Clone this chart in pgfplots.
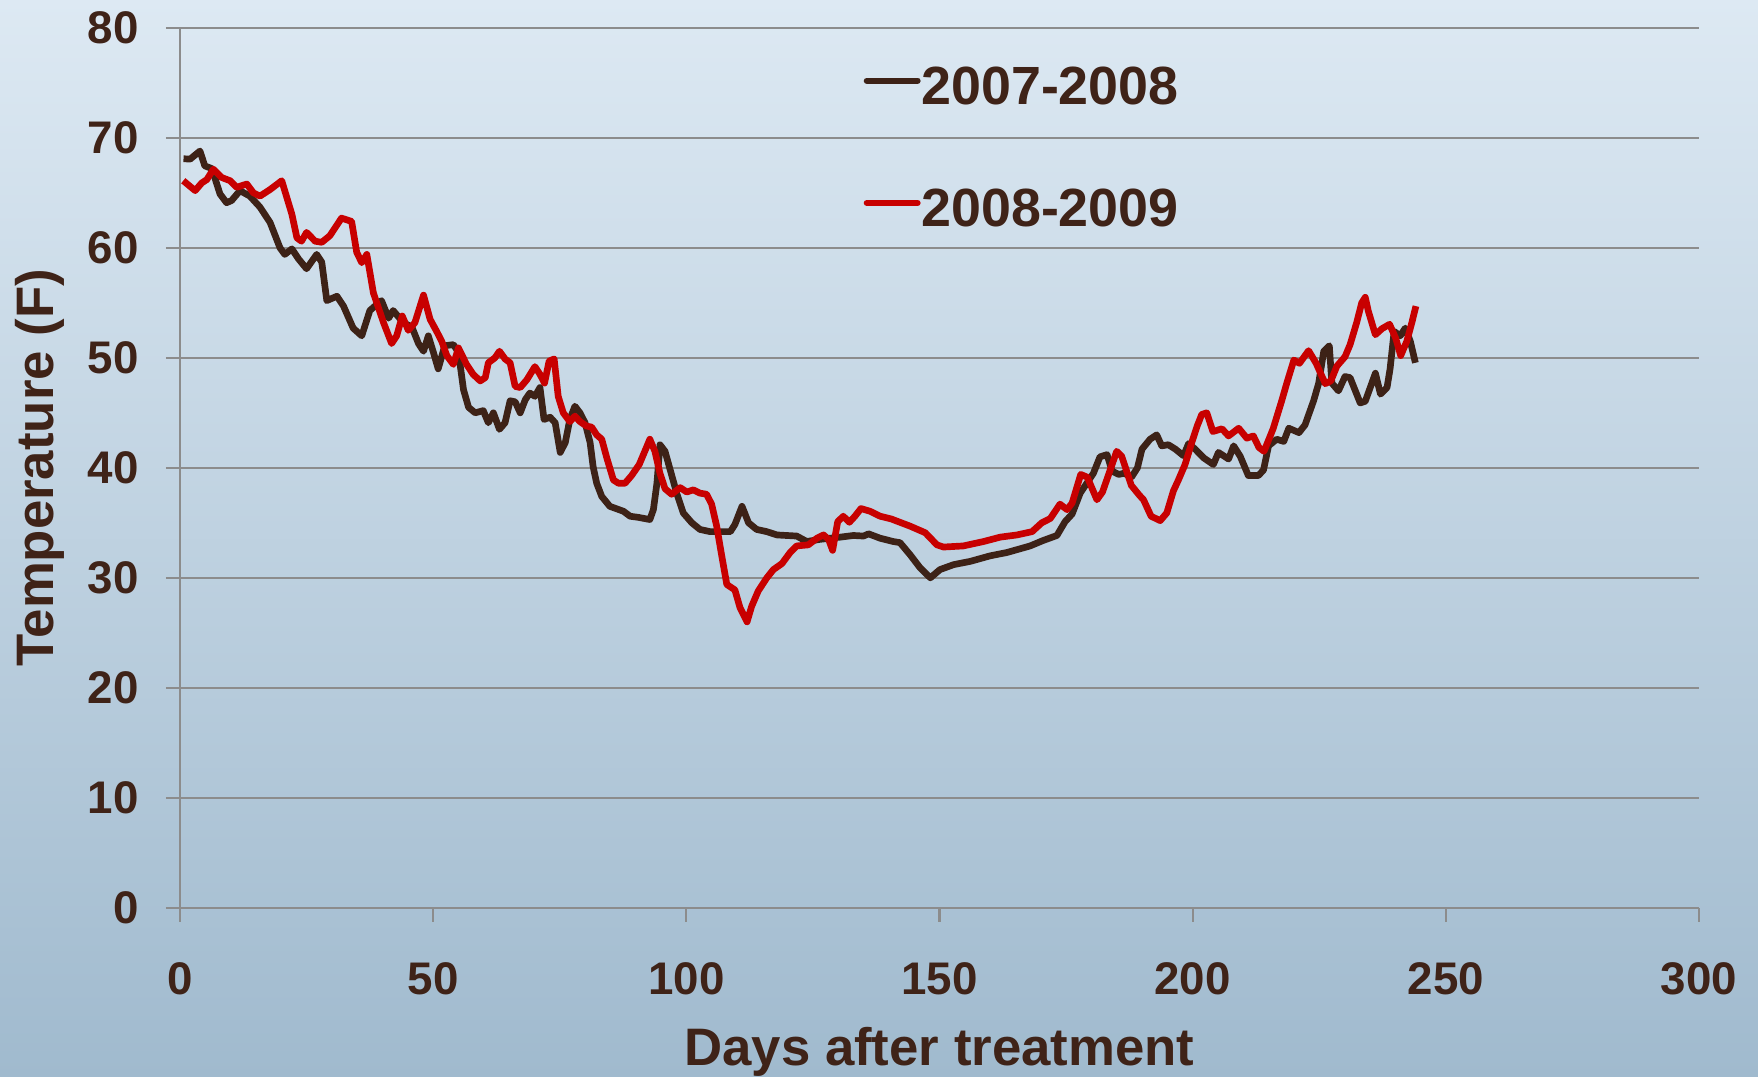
\documentclass[border=0pt]{standalone}
\usepackage{fontspec}
\setmainfont{Liberation Sans}
\usepackage{pgfplots}
\usepackage{pgfplotstable}
\pgfplotsset{compat=1.18}
\definecolor{txt}{RGB}{63,35,24}
\definecolor{blk}{RGB}{61,34,23}
\definecolor{rd}{RGB}{200,0,0}
\definecolor{grd}{RGB}{140,140,140}
\definecolor{bgtop}{RGB}{221,233,243}
\definecolor{bgbot}{RGB}{160,186,206}
\pgfplotstableread{
x y
0.7 68.1
2 68.06
3.95 68.8
4.9 67.45
6.3 67.2
7.9 64.9
9.2 64.1
10.2 64.3
11.85 65.2
13.8 64.7
15.8 63.7
17.8 62.3
19.75 60.0
20.7 59.4
22.1 59.9
23.4 59.0
25.0 58.1
27.0 59.4
28.0 58.7
29.0 55.2
31.0 55.6
32.3 54.7
34.2 52.7
35.9 52.0
37.5 54.3
38.5 54.7
39.8 55.2
41.2 53.6
42.1 54.3
44.1 53.2
45.8 52.8
47.1 51.3
48.1 50.6
49.05 52.0
50.05 50.5
51.0 49.0
52.3 51.1
54.0 51.2
55.0 50.5
56.0 47.1
57.0 45.5
58.3 45.0
59.9 45.2
60.9 44.1
61.9 45.0
63.1 43.5
64.2 44.1
65.2 46.1
66.2 46.0
67.2 45.0
68.2 46.2
69.1 46.8
70.1 46.5
71.1 47.3
71.9 44.4
73.1 44.6
74.1 44.1
75.1 41.4
76.1 42.3
77.0 44.4
78.0 45.6
79.0 45.0
80.0 44.1
81.0 42.3
81.6 40.1
82.3 38.6
83.3 37.4
84.9 36.5
87.6 36.05
88.9 35.6
90.5 35.5
92.8 35.3
93.5 36.2
94.2 38.6
94.8 42.1
95.8 41.5
96.8 39.85
98.1 37.7
99.4 35.9
101.1 35.0
102.7 34.4
104.7 34.2
108.7 34.2
109.6 34.85
111.0 36.5
112.3 35.0
113.9 34.4
115.9 34.2
117.9 33.9
121.8 33.8
123.8 33.3
126.4 33.5
130.4 33.7
133.0 33.85
135.0 33.8
136.0 34.0
138.3 33.6
140.9 33.3
142.2 33.2
144.2 32.1
146.2 30.9
148.2 30.0
150.1 30.75
152.8 31.2
156.1 31.5
160.0 32.0
163.3 32.3
167.9 32.9
170.5 33.4
173.2 33.85
174.8 35.1
176.2 35.8
177.8 37.7
179.1 38.6
180.4 39.5
181.7 41.0
183.1 41.2
184.1 39.7
185.4 39.4
186.4 39.5
188.0 39.2
189.1 40.0
190.0 41.7
191.6 42.6
192.9 43.0
193.9 42.0
195.2 42.1
196.6 41.7
198.2 41.1
199.2 42.2
200.5 41.7
202.2 40.9
204.1 40.3
205.1 41.4
207.1 40.8
208.1 42.0
209.4 41.05
211.0 39.3
213.0 39.3
214.0 39.8
215.0 42.0
216.6 42.6
218.0 42.4
219.0 43.6
221.0 43.2
222.2 43.9
223.9 46.1
224.9 47.7
225.9 50.6
227.0 51.1
227.5 47.7
228.8 47.0
230.1 48.3
231.1 48.2
233.1 45.9
234.1 46.05
236.1 48.6
237.1 46.7
238.4 47.3
239.0 49.0
239.8 52.4
241.0 52.0
242.0 52.7
243.0 51.5
244.0 49.55
}\tblA
\pgfplotstableread{
x y
0.65 66.1
3.0 65.2
4.3 65.9
5.3 66.2
6.6 67.15
8.2 66.4
9.9 66.1
11.2 65.5
13.2 65.8
14.5 65.0
15.8 64.7
17.8 65.3
20.1 66.1
22.1 63.05
23.1 60.9
24.0 60.6
25.0 61.4
26.7 60.6
28.0 60.5
29.6 61.1
31.9 62.7
33.9 62.4
34.9 59.6
35.9 58.65
36.9 59.4
38.2 55.9
40.2 53.2
41.8 51.3
42.8 52.0
43.9 53.8
45.1 52.5
46.4 53.2
48.1 55.7
49.4 53.5
50.7 52.4
51.7 51.5
52.7 50.2
54.0 49.4
55.0 50.9
56.6 49.4
57.9 48.5
59.3 47.9
60.3 48.2
60.9 49.55
62.2 50.0
63.1 50.6
64.2 49.9
65.2 49.55
66.2 47.4
67.2 47.3
68.5 48.0
70.1 49.2
71.1 48.5
72.0 47.7
72.9 49.7
73.9 49.9
74.7 46.5
75.7 45.0
77.0 44.2
78.0 44.7
79.0 44.2
80.3 43.8
81.3 43.7
82.3 43.0
83.3 42.6
84.3 40.9
85.6 38.9
86.6 38.6
87.9 38.6
89.2 39.3
90.7 40.3
91.8 41.5
92.8 42.6
93.8 41.5
94.8 39.5
95.8 38.1
97.1 37.6
98.8 38.2
100.1 37.8
101.4 38.0
102.7 37.7
104.0 37.6
105.0 36.7
106.0 34.7
107.0 32.0
108.0 29.4
109.6 28.9
110.6 27.3
112.0 26.0
112.9 27.4
114.2 28.8
115.9 30.0
117.2 30.75
118.9 31.3
120.5 32.3
121.8 32.9
124.1 33.0
125.8 33.6
127.1 33.9
128.1 33.5
128.9 32.5
129.9 35.1
131.0 35.6
132.2 35.05
133.3 35.6
134.5 36.3
136.3 36.05
138.3 35.6
140.5 35.35
142.2 35.05
144.2 34.7
147.2 34.1
149.5 33.0
150.8 32.8
154.7 32.9
158.7 33.3
162.0 33.7
165.3 33.9
168.3 34.2
170.2 35.0
171.9 35.4
173.8 36.7
175.2 36.2
176.2 36.8
177.9 39.4
179.2 39.15
181.1 37.1
182.2 37.8
185.0 41.5
186.0 41.05
187.9 38.4
189.5 37.5
190.3 37.1
191.8 35.6
193.6 35.2
194.9 35.9
196.2 37.9
197.2 38.9
198.5 40.3
199.9 42.4
200.9 43.8
201.8 44.85
202.8 45.0
204.0 43.3
205.8 43.55
207.1 42.9
209.1 43.6
210.7 42.7
212.0 42.9
213.1 41.85
214.1 41.5
215.9 43.55
217.6 46.1
218.6 47.7
220.0 49.8
221.1 49.5
222.9 50.65
224.4 49.5
226.2 47.65
227.3 47.9
228.5 49.25
230.1 50.1
231.1 51.2
232.4 53.2
233.4 55.0
234.1 55.5
234.7 54.25
236.1 52.1
237.4 52.65
238.9 53.05
240.1 51.8
241.1 50.2
242.3 51.5
243.3 53.2
244.1 54.7
}\tblB
\begin{document}
\begin{tikzpicture}
\shade[top color=bgtop, bottom color=bgbot] (-51.19pt,-48.06pt) rectangle (448.8pt,258.2pt);
\begin{axis}[
  at={(0,0)}, anchor=south west,
  scale only axis, width=432pt, height=250.3pt,
  xmin=0, xmax=300, ymin=0, ymax=80,
  xtick={0,50,...,300}, ytick={0,10,...,80},
  axis lines=left,
  axis line style={-, draw=grd, line width=0.6pt},
  ymajorgrids,
  grid style={draw=grd, line width=0.6pt},
  tick align=outside,
  major tick length=4pt,
  tick style={draw=grd, line width=0.6pt},
  /pgf/number format/assume math mode=true,
  ticklabel style={font=\bfseries\fontsize{13}{15}\selectfont, text=txt},
  yticklabel style={xshift=-4.2pt},
  xticklabel style={yshift=-8.1pt},
  xlabel={Days after treatment},
  ylabel={Temperature (F)},
  label style={font=\bfseries\fontsize{15}{18}\selectfont, text=txt},
  xlabel style={at={(axis description cs:0.5,0)}, anchor=base, yshift=-44.7pt},
  ylabel style={at={(axis description cs:0,0.5)}, anchor=base, yshift=36pt},
  legend style={draw=none, fill=none, at={(axis cs:134.9,76.5)}, anchor=north west,
    inner sep=0pt, row sep=22.6pt, column sep=0.2pt,
    nodes={inner sep=0pt, font=\bfseries\fontsize{15.3}{18}\selectfont, text=txt}},
  legend cell align=left,
  legend image code/.code={\draw[#1, line width=1.8pt, line cap=round] (0pt,2.2pt) -- (14.4pt,2.2pt);},
]
\addplot[blk, line width=1.9pt, line join=round] table {\tblA};
\addlegendentry{2007-2008}
\addplot[rd, line width=1.9pt, line join=round] table {\tblB};
\addlegendentry{2008-2009}
\end{axis}
\pgfresetboundingbox
\path[use as bounding box] (-51.19pt,-48.06pt) rectangle (448.8pt,258.2pt);
\end{tikzpicture}
\end{document}
